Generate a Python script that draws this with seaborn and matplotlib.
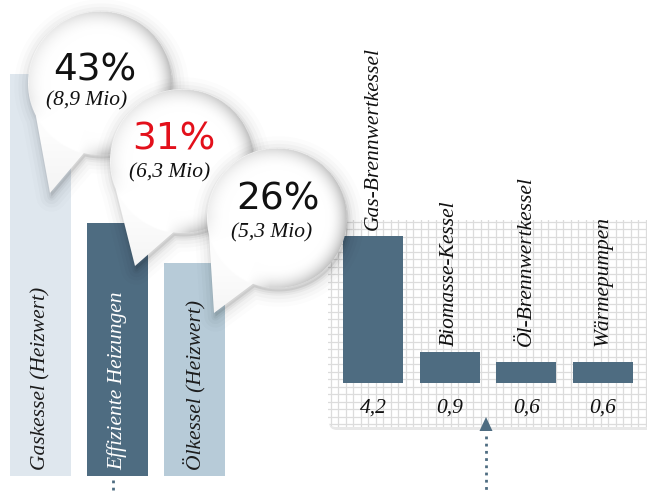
import numpy as np
import matplotlib
matplotlib.use("Agg")
import matplotlib.pyplot as plt
import seaborn as sns
from matplotlib.path import Path
from matplotlib.patches import PathPatch, FancyBboxPatch, Polygon

# ── data ──────────────────────────────────────────────────────────────────────
share_labels = ["Gaskessel (Heizwert)", "Effiziente Heizungen", "Ölkessel (Heizwert)"]
share_pct = ["43%", "31%", "26%"]
share_mio = ["(8,9 Mio)", "(6,3 Mio)", "(5,3 Mio)"]
share_bar_height = [100, 63, 53]          # relative bar heights as drawn
share_colors = ["#dfe7ee", "#4e6c81", "#b7cbd8"]
share_text_colors = ["#1c1c1c", "#ffffff", "#1c1c1c"]
share_pct_colors = ["#111111", "#e3101b", "#111111"]

eff_labels = ["Gas-Brennwertkessel", "Biomasse-Kessel", "Öl-Brennwertkessel", "Wärmepumpen"]
eff_values = [4.2, 0.9, 0.6, 0.6]
eff_value_text = ["4,2", "0,9", "0,6", "0,6"]

# ── style ─────────────────────────────────────────────────────────────────────
W, H = 647, 491
DARK = "#4e6c81"
SERIF = dict(family="Liberation Serif", style="italic", size=15.5)

sns.set_theme(style="white")
plt.rcParams["font.family"] = ["DejaVu Sans"]


def px_axes(fig, x0, y0, x1, y1, **kw):
    return fig.add_axes([x0 / W, 1 - y1 / H, (x1 - x0) / W, (y1 - y0) / H], **kw)


fig = plt.figure(figsize=(W / 100, H / 100), dpi=100)
fig.patch.set_facecolor("white")

# ── background: gridded panel on the right ───────────────────────────────────
bg = px_axes(fig, 0, 0, W, H, zorder=0)
bg.set_xlim(0, W)
bg.set_ylim(H, 0)
bg.axis("off")

shade = FancyBboxPatch((329, 222), 330, 208, boxstyle="round,pad=0,rounding_size=8",
                       fc="#e8e8e8", ec="none", zorder=0)
bg.add_patch(shade)
panel = FancyBboxPatch((328, 220), 330, 207, boxstyle="round,pad=0,rounding_size=8",
                       fc="white", ec="none", zorder=0.5)
bg.add_patch(panel)
vl = bg.vlines(np.arange(330.5, W + 8, 7.5), 215, 432, color="#dcdcdc", lw=0.9, zorder=1)
hl = bg.hlines(np.arange(221.5, 430, 7.5), 320, W + 5, color="#dcdcdc", lw=0.9, zorder=1)
vl.set_clip_path(panel)
hl.set_clip_path(panel)

# arrow + dotted guide lines
bg.add_patch(Polygon([[486, 417], [479.5, 431], [492.5, 431]], closed=True,
                     fc=DARK, ec="none", zorder=2))
bg.plot([486, 486], [436, 490], color=DARK, lw=2, ls=(0, (1, 1.6)), zorder=2)
bg.plot([113, 113], [480, 491], color=DARK, lw=2, ls=(0, (1, 1.6)), zorder=2)

# ── left chart: market shares ────────────────────────────────────────────────
axl = px_axes(fig, 2, 74, 233, 476, zorder=1)
sns.barplot(x=share_labels, y=share_bar_height, hue=share_labels, palette=share_colors,
            saturation=1, width=0.79, legend=False, linewidth=0, ax=axl)
axl.set_xlim(-0.5, 2.5)
axl.set_ylim(0, 100)
axl.axis("off")
for i, (lab, col) in enumerate(zip(share_labels, share_text_colors)):
    axl.text(i, 1.5, lab, rotation=90, ha="center", va="bottom", color=col, **SERIF)

# ── right chart: efficient heating systems ───────────────────────────────────
axr = px_axes(fig, 328, 220, W, 428, zorder=1)
sns.barplot(x=eff_labels, y=eff_values, color=DARK, saturation=1, width=0.78,
            linewidth=0, ax=axr)
axr.set_xlim((328 - 373) / 76.7, (W - 373) / 76.7)
axr.set_ylim((383 - 428) / 35, (383 - 220) / 35)
axr.axis("off")
for i, (lab, v, vt) in enumerate(zip(eff_labels, eff_values, eff_value_text)):
    axr.text(i, max(v, 0.9) + 0.17, lab, rotation=90, ha="center", va="bottom",
             color="#111111", **SERIF)
    axr.text(i, -0.72, vt, ha="center", va="center", color="#111111", **SERIF)

# ── speech bubbles ───────────────────────────────────────────────────────────
ov = px_axes(fig, 0, 0, W, H, zorder=5)
ov.set_facecolor("none")
ov.axis("off")


def bubble(ax, cx, cy, r, th_low, th_left, tip, z):
    t = np.radians(np.linspace(th_left, th_low + 360, 160))
    pts = np.column_stack([cx + r * np.cos(t), cy + r * np.sin(t)])
    pts = np.vstack([pts, tip, pts[:1]])
    path = Path(pts, closed=True)
    spath = Path(pts + np.array([1.5, 3.5]), closed=True)
    for lw, a in [(22, 0.012), (16, 0.018), (11, 0.025), (6, 0.035), (3, 0.045)]:
        ax.add_patch(PathPatch(spath, fc="none", ec=(0, 0, 0, a), lw=lw,
                               joinstyle="round", zorder=z))
    ax.add_patch(PathPatch(spath, fc=(0, 0, 0, 0.08), ec="none", zorder=z))
    body = PathPatch(path, fc="none", ec="none", zorder=z + 0.1)
    ax.add_patch(body)
    x0, x1 = cx - r - 4, cx + r + 4
    y0, y1 = cy - r - 4, max(cy + r, tip[1]) + 4
    X, Y = np.meshgrid(np.arange(x0, x1, 0.5), np.arange(y0, y1, 0.5))
    rho = np.hypot(X - cx, Y - cy) / r
    phi = np.degrees(np.arctan2(Y - cy, X - cx))
    rim = np.clip((rho - 0.7) / 0.3, 0, 1) ** 2.2
    # no rim where the tail joins the circle
    mid, half = (th_low + th_left) / 2, (th_left - th_low) / 2
    ang = np.abs((phi - mid + 180) % 360 - 180)
    rim *= np.clip((ang - half * 0.8) / 20, 0, 1)
    side = 0.5 + 0.5 * np.cos(np.radians(phi - 10))
    v = 1 - rim * (0.07 + 0.2 * side)
    tail = rho > 1
    v[tail] = 0.99 - 0.06 * np.clip((Y[tail] - cy - r * 0.7) / (tip[1] - cy), 0, 1)
    img = np.dstack([v, v, v, np.ones_like(v)])
    im = ax.imshow(img, extent=(x0, x1, y1, y0), origin="upper", aspect="auto",
                   interpolation="bilinear", zorder=z + 0.1)
    im.set_clip_path(body)


bubbles = [
    dict(cx=100, cy=83, r=72, th_low=103, th_left=153, tip=(50, 193)),
    dict(cx=182, cy=161, r=72, th_low=97, th_left=157, tip=(135, 266)),
    dict(cx=277, cy=218, r=70, th_low=110, th_left=166, tip=(214, 313)),
]
pct_pos = [(95, 70), (174, 140), (278, 199)]
mio_pos = [(87, 101), (170, 173), (272, 233)]

for k, b in enumerate(bubbles):
    z = 1 + 2 * k
    bubble(ov, z=z, **b)
    ov.text(*pct_pos[k], share_pct[k], ha="center", va="center", fontsize=27,
            color=share_pct_colors[k], family="DejaVu Sans", zorder=z + 0.5)
    ov.text(*mio_pos[k], share_mio[k], ha="center", va="center", color="#111111",
            zorder=z + 0.5, **SERIF)

ov.set_xlim(0, W)
ov.set_ylim(H, 0)

fig.savefig("out.png", dpi=100)
